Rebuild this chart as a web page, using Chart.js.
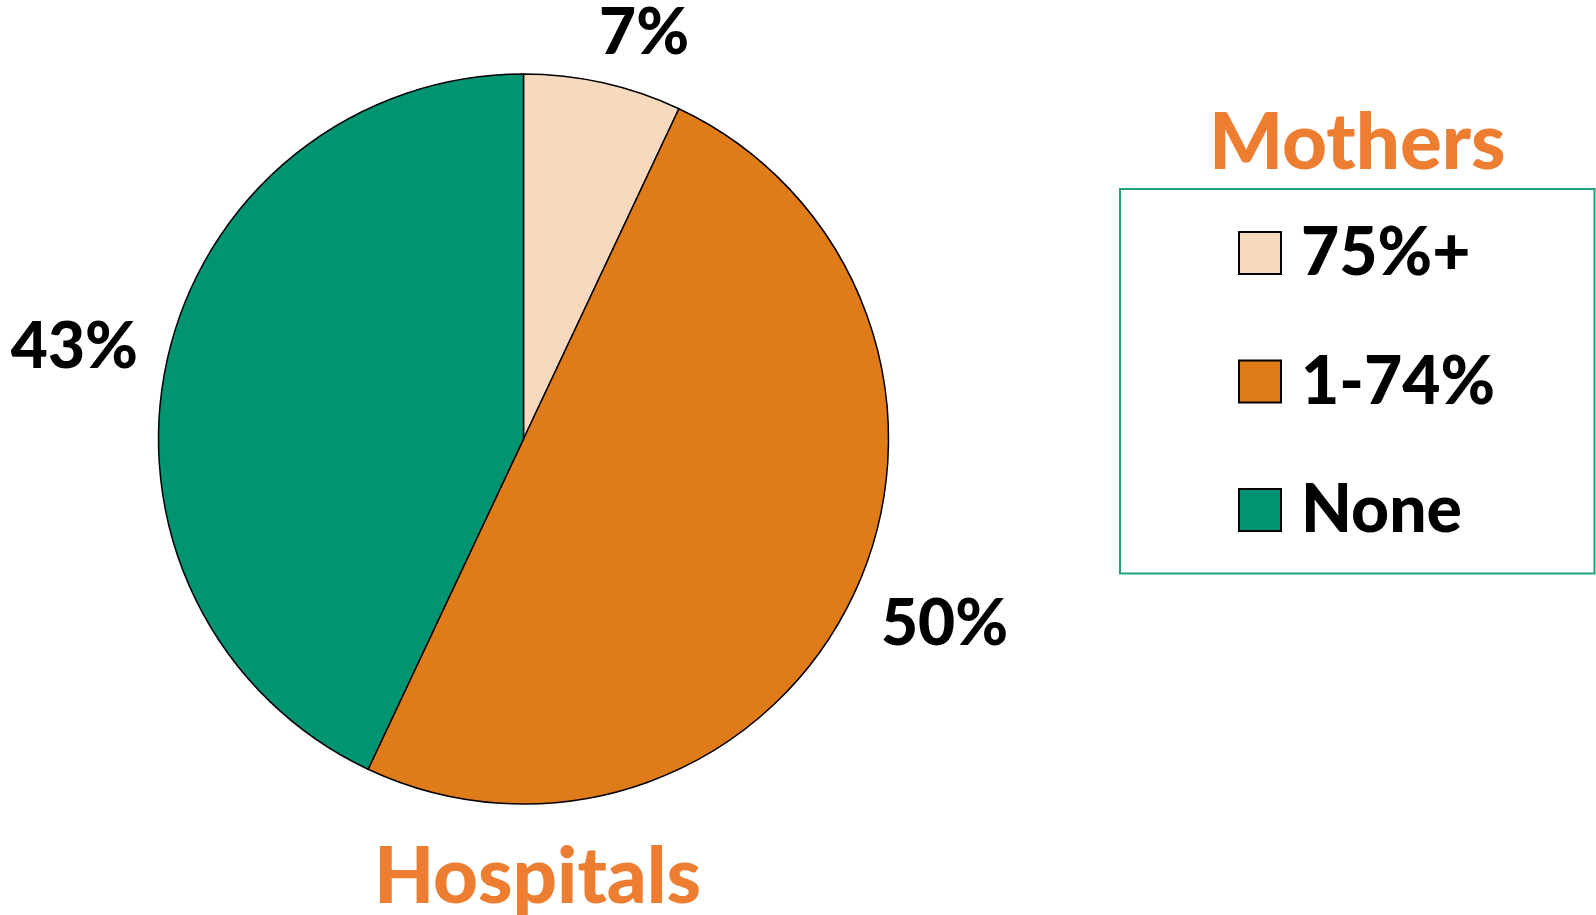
<!DOCTYPE html>
<html>
<head>
<meta charset="utf-8">
<title>Hospitals / Mothers</title>
<script src="https://cdn.jsdelivr.net/npm/chart.js@4.4.1/dist/chart.umd.min.js"></script>
<style>
  html, body { margin: 0; padding: 0; background: #ffffff; }
  #wrap { width: 1596px; height: 915px; position: relative; }
  canvas { display: block; }
</style>
</head>
<body>
<div id="wrap"><canvas id="pie" width="1596" height="915"></canvas></div>
<script>
// Share of hospitals by the proportion of mothers
const categories = ['75%+', '1-74%', 'None'];
const shares = [7, 50, 43];
const sliceColors = ['#F7DABD', '#E07B19', '#009473'];

const pieTitle = 'Hospitals';
const legendTitle = 'Mothers';

const FONT = 'Lato, "Open Sans", sans-serif';
const WEIGHT = '900';
const TITLE_COLOR = '#ED7D31';

const clamp1 = v => Math.max(-1, Math.min(1, v));

// Percentage labels just outside each slice, along its middle angle
const sliceLabels = {
  id: 'sliceLabels',
  afterDatasetsDraw(chart) {
    const ctx = chart.ctx;
    const meta = chart.getDatasetMeta(0);
    const size = 64;
    const capH = size * 0.7165;
    const gap = 30;
    ctx.save();
    ctx.font = `${WEIGHT} ${size}px ${FONT}`;
    ctx.fillStyle = '#000000';
    ctx.textAlign = 'center';
    ctx.textBaseline = 'alphabetic';
    meta.data.forEach((arc, i) => {
      const p = arc.getProps(['x', 'y', 'startAngle', 'endAngle', 'outerRadius'], true);
      const mid = (p.startAngle + p.endAngle) / 2;
      const dx = Math.cos(mid), dy = Math.sin(mid);
      const text = shares[i] + '%';
      const halfW = ctx.measureText(text).width / 2;
      const halfH = capH / 2;
      const d = p.outerRadius + gap;
      // push the text box away from the rim, more sideways than vertically
      const cx = p.x + dx * d + halfW * clamp1(3.5 * dx);
      const cy = p.y + dy * d + halfH * clamp1(1.5 * dy);
      ctx.fillText(text, cx, cy + capH / 2);
    });
    ctx.restore();
  }
};

// Titles and the boxed legend on the right
const sideLegend = {
  id: 'sideLegend',
  afterDraw(chart) {
    const ctx = chart.ctx;
    const meta = chart.getDatasetMeta(0);
    const arc = meta.data[0];
    ctx.save();

    // "Hospitals" under the pie
    ctx.font = `${WEIGHT} 78px ${FONT}`;
    ctx.fillStyle = TITLE_COLOR;
    ctx.textAlign = 'center';
    ctx.textBaseline = 'alphabetic';
    ctx.fillText(pieTitle, arc.x + 14, 903);

    // legend frame
    const box = { left: 1120, top: 189, right: 1594.5, bottom: 573.5 };
    ctx.strokeStyle = '#1DA380';
    ctx.lineWidth = 2;
    ctx.strokeRect(box.left, box.top, box.right - box.left, box.bottom - box.top);

    // "Mothers" centred above the frame
    ctx.fillText(legendTitle, (box.left + box.right) / 2, 169);

    // entries
    const ds = chart.data.datasets[0];
    const sw = 42;
    const rowTop = 232;
    const rowStep = 128.5;
    ctx.font = `${WEIGHT} 66px ${FONT}`;
    ctx.textAlign = 'left';
    chart.data.labels.forEach((label, i) => {
      const y = rowTop + i * rowStep;
      ctx.fillStyle = ds.backgroundColor[i];
      ctx.fillRect(1239, y, sw, sw);
      ctx.strokeStyle = '#000000';
      ctx.lineWidth = 2;
      ctx.strokeRect(1239, y, sw, sw);
      ctx.fillStyle = '#000000';
      ctx.fillText(label, 1301, y + sw + 1);
    });
    ctx.restore();
  }
};

function draw() {
  new Chart(document.getElementById('pie'), {
    type: 'pie',
    data: {
      labels: categories,
      datasets: [{
        data: shares,
        backgroundColor: sliceColors,
        borderColor: '#000000',
        borderWidth: 1.5,
        borderJoinStyle: 'miter'
      }]
    },
    options: {
      responsive: false,
      animation: false,
      radius: 365,
      layout: { padding: { left: 99, right: 648, top: 20, bottom: 57 } },
      plugins: {
        legend: { display: false },
        tooltip: { enabled: false }
      }
    },
    plugins: [sliceLabels, sideLegend]
  });
}

Promise.all([
  document.fonts.load(`${WEIGHT} 64px Lato`),
  document.fonts.load(`${WEIGHT} 78px Lato`)
]).then(draw, draw);
</script>
</body>
</html>
